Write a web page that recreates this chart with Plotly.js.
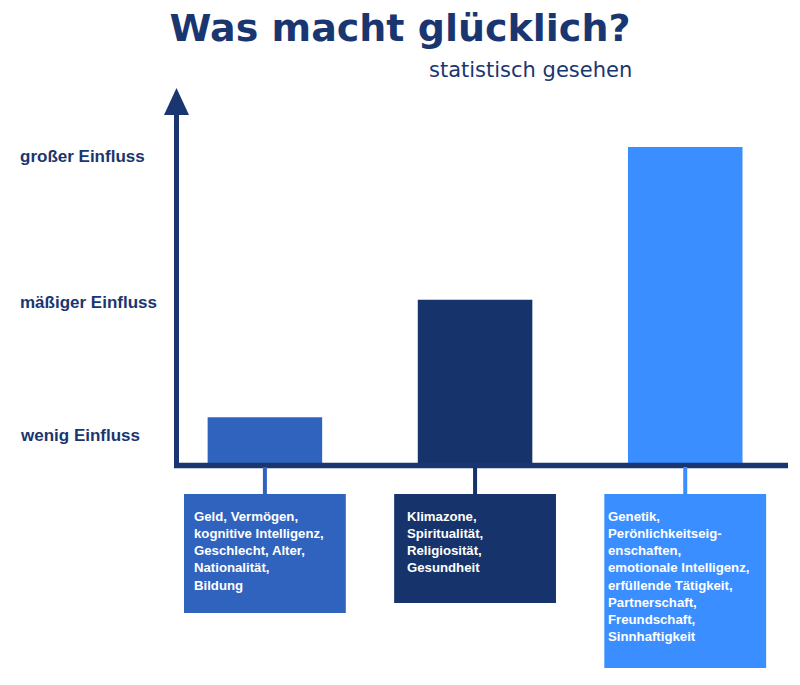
<!DOCTYPE html>
<html>
<head>
<meta charset="utf-8">
<script src="https://cdn.plot.ly/plotly-3.0.1.min.js"></script>
<style>html,body{margin:0;padding:0;background:#fff;}#chart{width:800px;height:685px;}</style>
</head>
<body>
<div id="chart"></div>
<script>
// ---- data ----
const categories = ["Gruppe 1", "Gruppe 2", "Gruppe 3"];
const influence = [15, 52, 100];               // relative influence
const levelLabels = ["wenig Einfluss", "mäßiger Einfluss", "großer Einfluss"];
const levelValues = [9.4, 51.1, 97];
const factorTexts = [
  "Geld, Vermögen,<br>kognitive Intelligenz,<br>Geschlecht, Alter,<br>Nationalität,<br>Bildung",
  "Klimazone,<br>Spiritualität,<br>Religiosität,<br>Gesundheit",
  "Genetik,<br>Perönlichkeitseig-<br>enschaften,<br>emotionale Intelligenz,<br>erfüllende Tätigkeit,<br>Partnerschaft,<br>Freundschaft,<br>Sinnhaftigkeit"
];
const titleText = "Was macht glücklich?";
const subtitleText = "statistisch gesehen";

// ---- styles / layout helpers ----
const navy = "#1a3670";
const barColors = ["#3063be", "#17336b", "#3b8eff"];
const L = 176, T = 88, W = 612, H = 377;
const PW = 800, PH = 685;
const pxX = p => (p - L) / W;
const pxY = p => (T + H - p) / H;
const boxBottoms = [613, 603, 668];
const textLeft = [192, 405, 606];
const boxHalf = 0.385;

const shapes = [];
const annotations = [];

// x axis line
shapes.push({type: "line", xref: "paper", yref: "paper", x0: pxX(174), x1: pxX(788), y0: pxY(465.5), y1: pxY(465.5),
  line: {color: navy, width: 5.5}});
// y axis line
shapes.push({type: "line", xref: "paper", yref: "paper", x0: pxX(176.5), x1: pxX(176.5), y0: pxY(468), y1: pxY(112),
  line: {color: navy, width: 5}});
// arrow head
shapes.push({type: "path", xref: "paper", yref: "paper",
  path: `M ${pxX(176.5)} ${pxY(88)} L ${pxX(164)} ${pxY(115)} L ${pxX(189)} ${pxY(115)} Z`,
  fillcolor: navy, line: {width: 0}});

categories.forEach((c, i) => {
  // connector
  shapes.push({type: "line", xref: "x", yref: "paper", x0: i, x1: i, y0: pxY(467), y1: pxY(495),
    line: {color: barColors[i], width: 4}});
  // box
  shapes.push({type: "rect", xref: "x", yref: "paper", x0: i - boxHalf, x1: i + boxHalf,
    y0: pxY(494), y1: pxY(boxBottoms[i]), fillcolor: barColors[i], line: {width: 0}});
  annotations.push({xref: "paper", yref: "paper", x: pxX(textLeft[i]), y: pxY(507),
    xanchor: "left", yanchor: "top", align: "left", showarrow: false,
    text: factorTexts[i],
    font: {family: "Liberation Sans, Arial, sans-serif", size: 13.2, color: "#ffffff", weight: "bold"}});
});

levelLabels.forEach((t, i) => {
  annotations.push({xref: "paper", yref: "y", x: pxX(18), y: levelValues[i],
    xanchor: "left", yanchor: "middle", showarrow: false, text: t,
    font: {family: "Liberation Sans, Arial, sans-serif", size: 17, color: navy, weight: "bold"}});
});

annotations.push({xref: "paper", yref: "paper", x: pxX(634), y: pxY(70), xanchor: "right", yanchor: "middle",
  showarrow: false, text: subtitleText,
  font: {family: "DejaVu Sans, sans-serif", size: 21, color: navy}});

const trace = {
  type: "bar",
  x: categories,
  y: influence,
  width: 0.545,
  marker: {color: barColors, line: {width: 0}},
  hoverinfo: "skip"
};

const pxPerUnit = (465 - 147) / 100;

const layout = {
  width: PW, height: PH,
  margin: {l: L, r: PW - L - W, t: T, b: PH - T - H, pad: 0},
  paper_bgcolor: "#ffffff", plot_bgcolor: "#ffffff",
  showlegend: false,
  title: {text: titleText, xref: "container", x: 0.5, xanchor: "center",
    yref: "container", y: 1 - 28 / PH, yanchor: "middle",
    font: {family: "DejaVu Sans, sans-serif", size: 38, color: navy, weight: "bold"}},
  xaxis: {type: "category", range: [-0.423, 2.489], showticklabels: false, showgrid: false,
    zeroline: false, showline: false, ticks: "", fixedrange: true},
  yaxis: {range: [0, H / pxPerUnit], showticklabels: false, showgrid: false, zeroline: false,
    showline: false, ticks: "", fixedrange: true},
  shapes: shapes,
  annotations: annotations
};

Plotly.newPlot("chart", [trace], layout, {displayModeBar: false, staticPlot: true});
</script>
</body>
</html>
